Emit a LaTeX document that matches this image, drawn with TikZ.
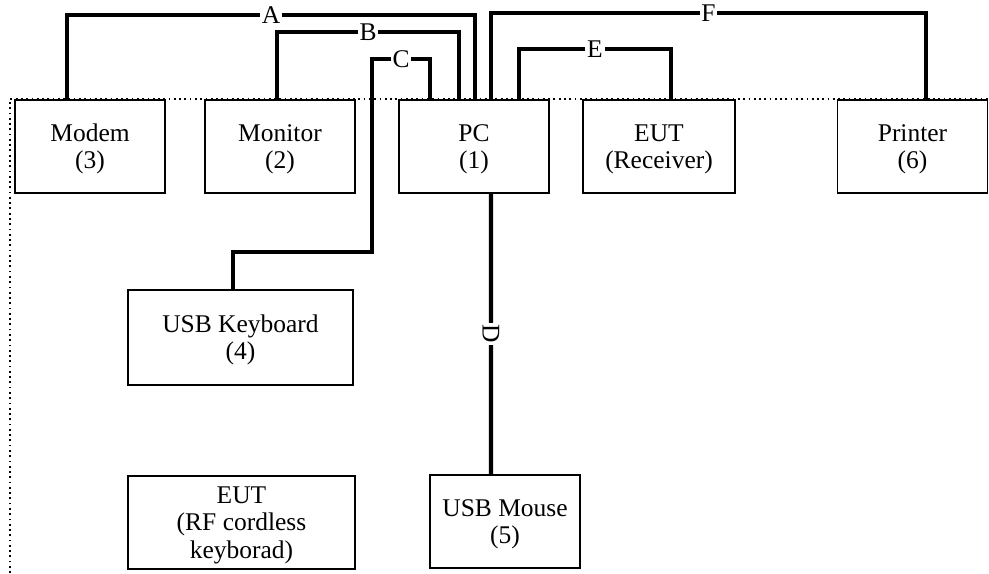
\documentclass[tikz,border=0pt]{standalone}
\usepackage{fontspec}
\setmainfont{Liberation Serif}

\begin{document}
\begin{tikzpicture}[
    box/.style={draw, line width=0.8pt, minimum width=3cm, minimum height=1.86cm, align=center, text depth=-4pt, font=\fontsize{14.5}{15.5}\selectfont},
    cable/.style={line width=2.4pt},
    tag/.style={fill=white, inner sep=1pt, font=\fontsize{14.5}{15.5}\selectfont}
]
    \useasboundingbox (0,0) rectangle (19.78,11.46);

    % Dotted frame
    \draw[dotted, line width=1pt] (0.2,0) -- (0.2,9.48) -- (19.78,9.48);

    % Top row
    \node[box] (modem) at (1.8,8.53) {Modem\\(3)};
    \node[box] (monitor) at (5.6,8.53) {Monitor\\(2)};
    \node[box] (pc) at (9.48,8.53) {PC\\(1)};
    \node[box, minimum width=3.04cm] (eut) at (13.18,8.53) {EUT\\(Receiver)};
    \node[box] (printer) at (18.25,8.53) {Printer\\(6)};

    % Lower units
    \node[box, minimum width=4.5cm, minimum height=1.9cm] (keyboard) at (4.81,4.71) {USB Keyboard\\(4)};
    \node[box] (mouse) at (10.1,1.03) {USB Mouse\\(5)};
    \node[box, minimum width=4.54cm, inner sep=1pt, text depth=-1pt] (rfkbd) at (4.83,1.01) {EUT\\(RF cordless\\keyborad)};

    % Cables
    \draw[cable] ([xshift=-4.6mm]modem.north) -- ++(0,1.68) -| node[tag, pos=0.25] {A} ([xshift=0.2mm]pc.north);
    \draw[cable] ([xshift=-0.6mm]monitor.north) -- ++(0,1.34) -| node[tag, pos=0.25] {B} ([xshift=-3mm]pc.north);
    \draw[cable] ([xshift=-1.5mm]keyboard.north) -- ++(0,0.74) -- ++(2.78,0) -- ++(0,3.86) -| node[tag, pos=0.25] {C} ([xshift=-8.8mm]pc.north);
    \draw[cable] ([xshift=3.4mm]pc.south) -- node[tag, rotate=-90] {D} ([xshift=-2.8mm]mouse.north);
    \draw[cable] ([xshift=9mm]pc.north) -- ++(0,1.0) -| node[tag, pos=0.25] {E} ([xshift=2.4mm]eut.north);
    \draw[cable] ([xshift=3.4mm]pc.north) -- ++(0,1.72) -| node[tag, pos=0.25] {F} ([xshift=2.7mm]printer.north);
\end{tikzpicture}
\end{document}
